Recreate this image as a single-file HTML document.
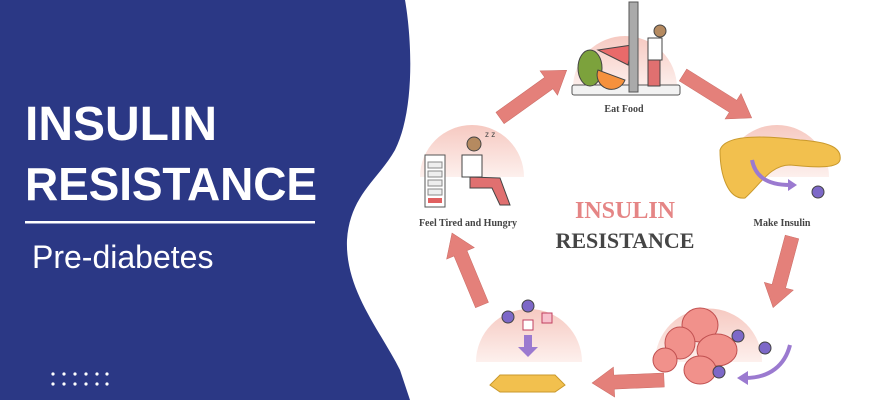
<!DOCTYPE html>
<html><head><meta charset="utf-8"><style>
html,body{margin:0;padding:0;width:870px;height:400px;overflow:hidden;background:#fff}
svg{display:block}
</style></head><body>
<svg width="870" height="400" viewBox="0 0 870 400" xmlns="http://www.w3.org/2000/svg">
<defs>
<linearGradient id="pk" x1="0" y1="0" x2="0" y2="1">
<stop offset="0" stop-color="#f6c9c1"/><stop offset="1" stop-color="#fdf0ed"/>
</linearGradient>
</defs>
<path d="M0,0 L405,0 C412,40 415,110 395,150 C378,180 350,195 347,240 C345,290 380,330 400,370 L410,400 L0,400 Z" fill="#2b3885"/>
<g font-family="Liberation Sans, sans-serif" fill="#fff" font-weight="bold">
<text x="25" y="140" font-size="48">INSULIN</text>
<text x="25" y="200" font-size="46" textLength="292">RESISTANCE</text>
</g>
<rect x="25" y="221" width="290" height="2.5" fill="#fff"/>
<text x="32" y="268" font-family="Liberation Sans, sans-serif" font-size="32" fill="#fff">Pre-diabetes</text>
<g fill="#fff">
<circle cx="53" cy="374" r="1.6"/><circle cx="64" cy="374" r="1.6"/><circle cx="75" cy="374" r="1.6"/><circle cx="86" cy="374" r="1.6"/><circle cx="97" cy="374" r="1.6"/><circle cx="107" cy="374" r="1.6"/>
<circle cx="53" cy="384" r="1.6"/><circle cx="64" cy="384" r="1.6"/><circle cx="75" cy="384" r="1.6"/><circle cx="86" cy="384" r="1.6"/><circle cx="97" cy="384" r="1.6"/><circle cx="107" cy="384" r="1.6"/>
</g>
<path d="M573,88 A52,52 0 0 1 677,88 Z" fill="url(#pk)"/>
<path d="M725,177 A52,52 0 0 1 829,177 Z" fill="url(#pk)"/>
<path d="M420,177 A52,52 0 0 1 524,177 Z" fill="url(#pk)"/>
<path d="M476,362 A53,53 0 0 1 582,362 Z" fill="url(#pk)"/>
<path d="M655,362 A53,53 0 0 1 762,362 Z" fill="url(#pk)"/>
<rect x="572" y="85" width="108" height="10" rx="2" fill="#f2f2f2" stroke="#555"/>
<ellipse cx="590" cy="68" rx="12" ry="18" fill="#7ca23c" stroke="#444"/>
<path d="M598,50 L632,45 L628,65 Z" fill="#e96a6a" stroke="#444"/>
<path d="M598,70 A14,14 0 0 0 625,80 Z" fill="#f5913d" stroke="#444"/>
<rect x="629" y="2" width="9" height="90" fill="#aaa" stroke="#555"/>
<rect x="648" y="38" width="14" height="22" fill="#fff" stroke="#444"/>
<rect x="648" y="60" width="12" height="26" fill="#e07070" stroke="#444"/>
<circle cx="660" cy="31" r="6" fill="#b58a60" stroke="#444"/>
<text x="624" y="112" text-anchor="middle" font-family="Liberation Serif, serif" font-size="10" font-weight="bold" fill="#444">Eat Food</text>
<path d="M720,150 C725,135 760,135 800,140 C830,142 842,148 840,160 C838,168 820,168 790,165 C770,165 760,185 745,198 C728,200 720,175 720,150 Z" fill="#f2c04e" stroke="#c9992c"/>
<path d="M752,160 C755,175 765,185 790,185" fill="none" stroke="#9b7ad0" stroke-width="4"/>
<path d="M788,179 L797,185 L788,191 Z" fill="#9b7ad0"/>
<circle cx="818" cy="192" r="6" fill="#7d68c8" stroke="#444"/>
<text x="782" y="226" text-anchor="middle" font-family="Liberation Serif, serif" font-size="10" font-weight="bold" fill="#444">Make Insulin</text>
<rect x="425" y="155" width="20" height="52" fill="#fff" stroke="#555"/>
<rect x="428" y="162" width="14" height="6" fill="#eee" stroke="#888"/>
<rect x="428" y="171" width="14" height="6" fill="#eee" stroke="#888"/>
<rect x="428" y="180" width="14" height="6" fill="#eee" stroke="#888"/>
<rect x="428" y="189" width="14" height="6" fill="#eee" stroke="#888"/>
<rect x="428" y="198" width="14" height="5" fill="#e06060"/>
<circle cx="474" cy="144" r="7" fill="#b58a60" stroke="#444"/>
<rect x="462" y="155" width="20" height="22" fill="#fff" stroke="#444"/>
<path d="M470,177 L500,178 L510,205 L500,205 L492,188 L470,188 Z" fill="#e07070" stroke="#444"/>
<text x="485" y="137" font-family="Liberation Sans, sans-serif" font-size="8" fill="#444">z z</text>
<text x="468" y="226" text-anchor="middle" font-family="Liberation Serif, serif" font-size="10" font-weight="bold" fill="#444">Feel Tired and Hungry</text>
<text x="625" y="218" text-anchor="middle" font-family="Liberation Serif, serif" font-size="24" font-weight="bold" fill="#e58585">INSULIN</text>
<text x="625" y="248" text-anchor="middle" font-family="Liberation Serif, serif" font-size="22" font-weight="bold" fill="#454545">RESISTANCE</text>
<circle cx="508" cy="317" r="6" fill="#7d68c8" stroke="#444"/>
<circle cx="528" cy="306" r="6" fill="#7d68c8" stroke="#444"/>
<rect x="523" y="320" width="10" height="10" fill="#fff" stroke="#c04060"/>
<rect x="542" y="313" width="10" height="10" fill="#f7c0cc" stroke="#c04060"/>
<path d="M524,335 L532,335 L532,347 L538,347 L528,357 L518,347 L524,347 Z" fill="#9b7ad0"/>
<path d="M490,385 L500,375 L555,375 L565,385 L555,392 L500,392 Z" fill="#f2c04e" stroke="#c9992c"/>
<g fill="#f1918b" stroke="#c05050">
<ellipse cx="700" cy="325" rx="18" ry="17"/>
<ellipse cx="680" cy="343" rx="15" ry="16"/>
<ellipse cx="717" cy="350" rx="20" ry="16"/>
<ellipse cx="700" cy="370" rx="16" ry="14"/>
<ellipse cx="665" cy="360" rx="12" ry="12"/>
</g>
<circle cx="738" cy="336" r="6" fill="#7d68c8" stroke="#444"/>
<circle cx="765" cy="348" r="6" fill="#7d68c8" stroke="#444"/>
<circle cx="719" cy="372" r="6" fill="#7d68c8" stroke="#444"/>
<path d="M790,345 C785,365 770,378 745,378" fill="none" stroke="#9b7ad0" stroke-width="4"/>
<path d="M748,371 L737,378 L748,385 Z" fill="#9b7ad0"/>
<g fill="#e4807a" stroke="#c96a64" stroke-width="0.5">
<path transform="translate(500,118) rotate(-35.6)" d="M0,-7 L60,-7 L60,-15 L82,0 L60,15 L60,7 L0,7 Z"/>
<path transform="translate(683,75) rotate(32)" d="M0,-7 L59,-7 L59,-15 L81,0 L59,15 L59,7 L0,7 Z"/>
<path transform="translate(792,237) rotate(105)" d="M0,-7 L51,-7 L51,-15 L73,0 L51,15 L51,7 L0,7 Z"/>
<path transform="translate(664,380) rotate(177.6)" d="M0,-7 L50,-7 L50,-15 L72,0 L50,15 L50,7 L0,7 Z"/>
<path transform="translate(482,305) rotate(-112.6)" d="M0,-7 L56,-7 L56,-15 L78,0 L56,15 L56,7 L0,7 Z"/>
</g>
</svg>
</body></html>
